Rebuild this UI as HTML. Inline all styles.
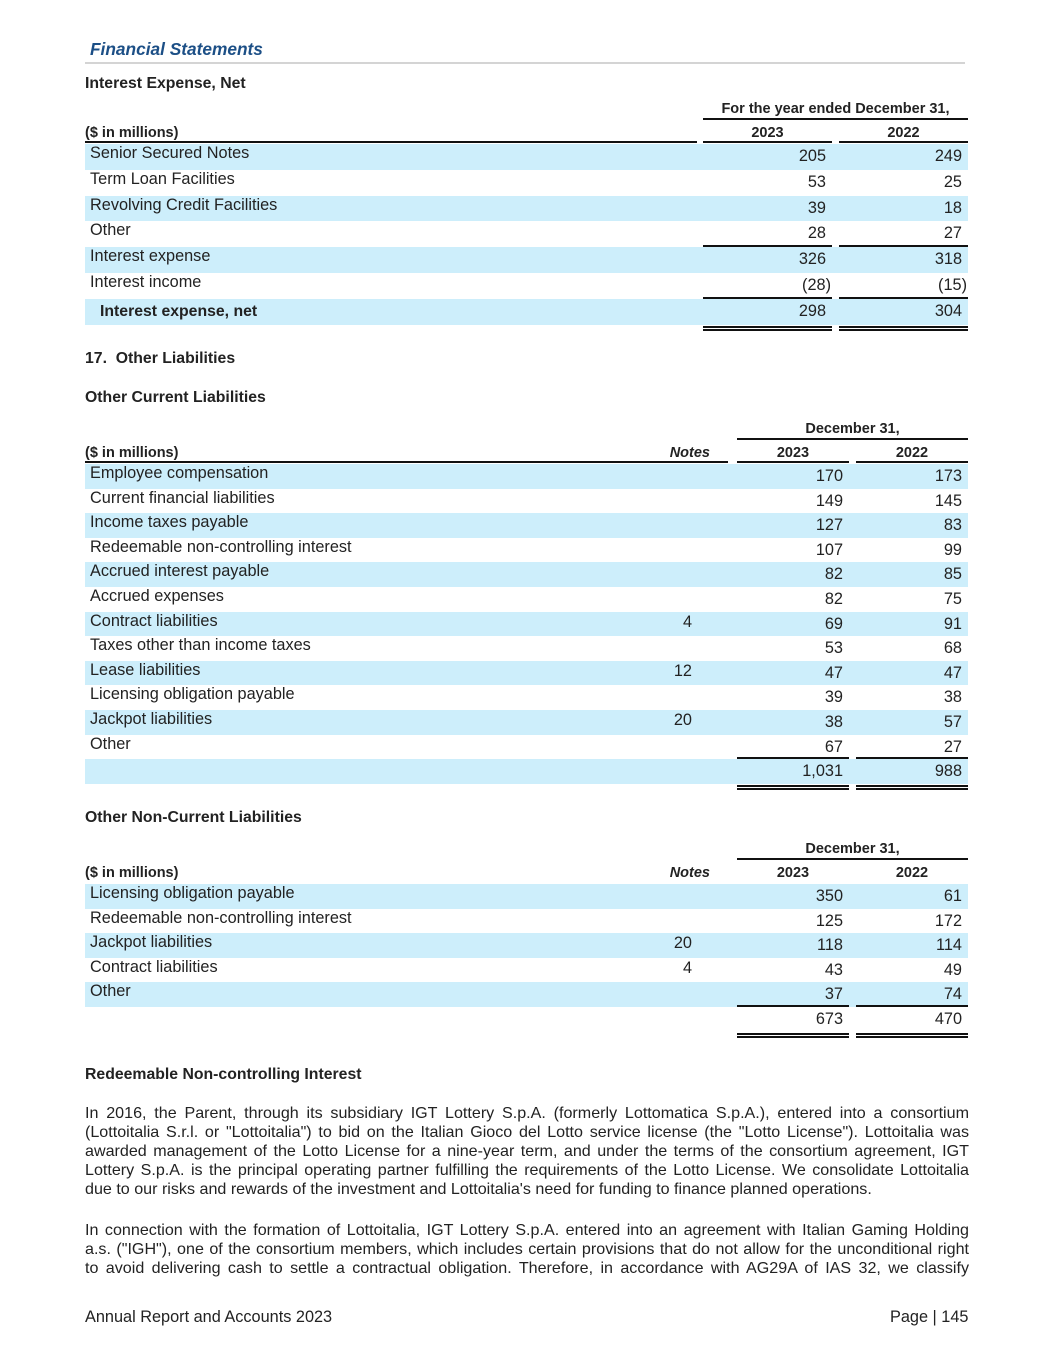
<!DOCTYPE html>
<html><head><meta charset="utf-8">
<style>
body{margin:0;background:#fff;font-family:"Liberation Sans",Arial,sans-serif;color:#222;}
#page{position:relative;width:1055px;height:1365px;overflow:hidden;}
.abs{position:absolute;white-space:nowrap;}
.b{font-weight:bold;font-size:14.5px;}
.row{position:absolute;left:85px;width:883px;}
.blue{background:#cdeefb;}
.lbl{position:absolute;left:5px;top:0px;font-size:16.3px;white-space:nowrap;}
.num{position:absolute;font-size:16.3px;text-align:right;}
.ln{position:absolute;height:2px;background:#111;}
.para{position:absolute;left:85px;width:884px;font-size:16.1px;line-height:18.9px;}
.para div{text-align:justify;text-align-last:justify;white-space:nowrap;}
.para div.last{text-align-last:left;}
</style></head><body>
<div id="page">
<div class="abs" style="left:90px;top:39px;font-size:17.3px;font-weight:bold;font-style:italic;color:#1c4f86;">Financial Statements</div>
<div class="abs" style="left:85px;top:62px;width:880px;height:2px;background:#d4d4d4;"></div>
<div class="abs b" style="left:85px;top:75px;font-size:15.8px;">Interest Expense, Net</div>
<div class="abs b" style="left:85px;top:350px;font-size:15.8px;">17.&nbsp; Other Liabilities</div>
<div class="abs b" style="left:85px;top:389px;font-size:15.8px;">Other Current Liabilities</div>
<div class="abs b" style="left:85px;top:809px;font-size:15.8px;">Other Non-Current Liabilities</div>
<div class="abs b" style="left:85px;top:1066px;font-size:15.8px;">Redeemable Non-controlling Interest</div>
<div class="para" style="top:1104px;">
<div>In 2016, the Parent, through its subsidiary IGT Lottery S.p.A. (formerly Lottomatica S.p.A.), entered into a consortium</div>
<div>(Lottoitalia S.r.l. or "Lottoitalia") to bid on the Italian Gioco del Lotto service license (the "Lotto License"). Lottoitalia was</div>
<div>awarded management of the Lotto License for a nine-year term, and under the terms of the consortium agreement, IGT</div>
<div>Lottery S.p.A. is the principal operating partner fulfilling the requirements of the Lotto License. We consolidate Lottoitalia</div>
<div class="last">due to our risks and rewards of the investment and Lottoitalia's need for funding to finance planned operations.</div>
</div>
<div class="para" style="top:1221px;">
<div>In connection with the formation of Lottoitalia, IGT Lottery S.p.A. entered into an agreement with Italian Gaming Holding</div>
<div>a.s. ("IGH"), one of the consortium members, which includes certain provisions that do not allow for the unconditional right</div>
<div>to avoid delivering cash to settle a contractual obligation. Therefore, in accordance with AG29A of IAS 32, we classify</div>
</div>
<div class="abs" style="left:85px;top:1308px;font-size:16.3px;">Annual Report and Accounts 2023</div>
<div class="abs" style="left:890px;top:1308px;font-size:16.3px;">Page | 145</div>
</div>
<script>
const t1Labels=["Senior Secured Notes","Term Loan Facilities","Revolving Credit Facilities","Other","Interest expense","Interest income","Interest expense, net"];
const t1V23=["205","53","39","28","326","(28)","298"];
const t1V22=["249","25","18","27","318","(15)","304"];
const t2Labels=["Employee compensation","Current financial liabilities","Income taxes payable","Redeemable non-controlling interest","Accrued interest payable","Accrued expenses","Contract liabilities","Taxes other than income taxes","Lease liabilities","Licensing obligation payable","Jackpot liabilities","Other",""];
const t2Notes=["","","","","","","4","","12","","20","",""];
const t2V23=["170","149","127","107","82","82","69","53","47","39","38","67","1,031"];
const t2V22=["173","145","83","99","85","75","91","68","47","38","57","27","988"];
const t3Labels=["Licensing obligation payable","Redeemable non-controlling interest","Jackpot liabilities","Contract liabilities","Other",""];
const t3Notes=["","","20","4","",""];
const t3V23=["350","125","118","43","37","673"];
const t3V22=["61","172","114","49","74","470"];
const page=document.getElementById('page');
function mk(cls,css,txt){const d=document.createElement('div');d.className=cls;d.style.cssText=css;if(txt!==undefined)d.textContent=txt;page.appendChild(d);return d;}
function line(x,y,w){const l=mk('ln',`left:${x}px;top:${y}px;width:${w}px;`);

return l;}
function table(o){
 const h1=mk('abs b',`left:${o.gx}px;top:${o.hy}px;width:${968-o.gx}px;text-align:center;`,o.group);
 
 
 line(o.gx,o.hy+17,968-o.gx);
 const h2=mk('abs b',`left:85px;top:${o.hy+24}px;`,'($ in millions)');
 
 
 if(o.hdrLines)line(85,o.hy+40,o.lblW);
 if(o.notesX){const n=mk('abs b',`left:${o.notesX}px;top:${o.hy+24}px;width:${o.notesW-22}px;text-align:right;font-style:italic;`,'Notes');
  
  
  if(o.hdrLines)line(o.notesX-2,o.hy+40,o.notesW-2);}
 o.cols.forEach((c,i)=>{const y=mk('abs b',`left:${c[0]}px;top:${o.hy+24}px;width:${c[1]-c[0]}px;text-align:center;`,i?'2022':'2023');
  
  
  if(o.hdrLines)line(c[0],o.hy+40,c[1]-c[0]);});
 const top=o.hy+43;
 o.labels.forEach((lab,i)=>{
  const y=top+i*o.rh;
  const r=mk('row'+(o.blue(i)?' blue':''),`top:${y}px;height:${o.rh}px;`);
  
  
  const l=document.createElement('div');l.className='lbl';l.textContent=lab;
  if(o.boldRow===i){l.style.fontWeight='bold';l.style.left='15px';l.style.top='4px';l.style.fontSize='15.8px';}
  r.appendChild(l);
  if(o.notes&&o.notes[i]){const n=mk('num',`left:${o.notesX}px;width:${o.notesW-40}px;top:${y+1}px;`,o.notes[i]);
   
   }
  [o.v23,o.v22].forEach((v,k)=>{const c=o.cols[k];
   const par=v[i].startsWith('(');
   const n=mk('num',`left:${c[0]}px;width:${c[1]-c[0]-(par?1:6)}px;top:${y+3}px;`,v[i]);
   
   });
 });
 (o.single||[]).forEach(i=>o.cols.forEach(c=>line(c[0],top+i*o.rh-2,c[1]-c[0])));
 const yb=top+o.labels.length*o.rh;
 o.cols.forEach(c=>{line(c[0],yb+1,c[1]-c[0]);line(c[0],yb+4,c[1]-c[0]);});
}
table({group:'For the year ended December 31,',gx:703,hy:101,lblW:612,hdrLines:true,cols:[[703,832],[839,968]],labels:t1Labels,v23:t1V23,v22:t1V22,rh:25.8,blue:i=>i%2===0,boldRow:6,single:[4,6]});
table({group:'December 31,',gx:737,hy:421,lblW:555,hdrLines:true,notesX:642,notesW:90,notes:t2Notes,cols:[[737,849],[856,968]],labels:t2Labels,v23:t2V23,v22:t2V22,rh:24.6,blue:i=>i%2===0,single:[12]});
table({group:'December 31,',gx:737,hy:841,lblW:555,hdrLines:false,notesX:642,notesW:90,notes:t3Notes,cols:[[737,849],[856,968]],labels:t3Labels,v23:t3V23,v22:t3V22,rh:24.6,blue:i=>i%2===0&&i<5,single:[5]});
</script>
</body></html>
